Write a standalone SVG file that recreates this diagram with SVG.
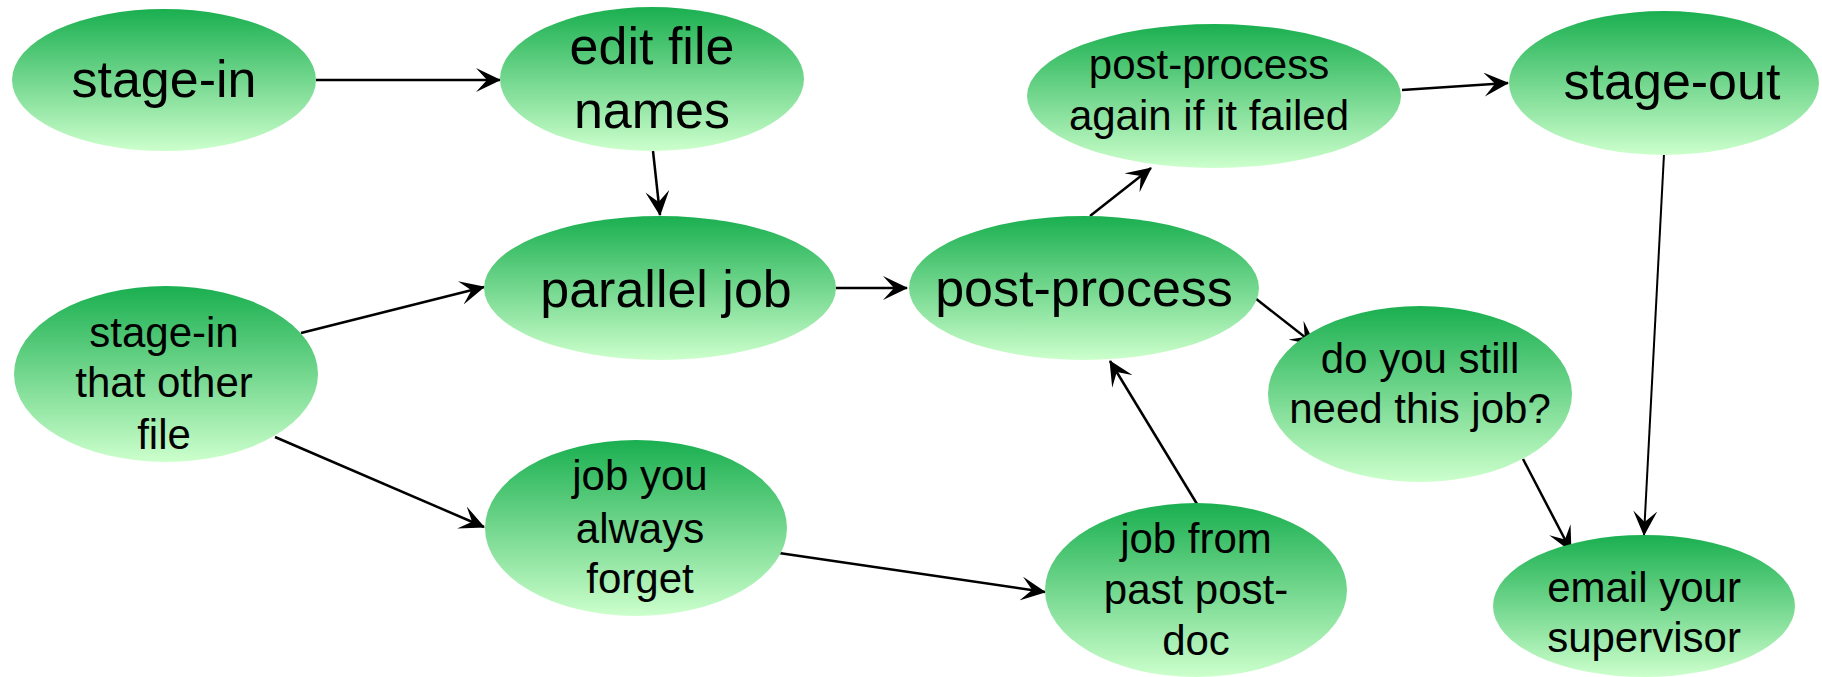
<svg xmlns="http://www.w3.org/2000/svg" width="1822" height="677" viewBox="0 0 1822 677">
<defs>
<linearGradient id="g" x1="0" y1="0" x2="0" y2="1">
<stop offset="0" stop-color="#1aaf50"/>
<stop offset="1" stop-color="#ccffcc"/>
</linearGradient>
<marker id="ah" markerUnits="userSpaceOnUse" viewBox="0 0 25 24" refX="24" refY="12" markerWidth="25" markerHeight="24" orient="auto">
<path d="M0,0 L25,12 L0,24 L11,12 Z" fill="#000"/>
</marker>
</defs>
<style>
ellipse{fill:url(#g);}
text{font-family:"Liberation Sans",Arial,sans-serif;fill:#000;text-anchor:middle;}
.b{font-size:52px;}
.m{font-size:42px;}
#edges line{stroke:#000;stroke-width:2.5;marker-end:url(#ah);}
</style>
<g id="edges">
<line x1="316" y1="80" x2="500" y2="80"/>
<line x1="653" y1="151" x2="660" y2="215"/>
<line x1="301" y1="333" x2="484" y2="287"/>
<line x1="275" y1="437" x2="484" y2="527"/>
<line x1="836" y1="288" x2="907" y2="288"/>
<line x1="779" y1="553" x2="1045" y2="592"/>
<line x1="1197" y1="504" x2="1110" y2="361"/>
<line x1="1090" y1="216" x2="1151" y2="168"/>
<line x1="1255" y1="298" x2="1315" y2="345"/>
<line x1="1402" y1="90" x2="1508" y2="83"/>
<line x1="1664" y1="154" x2="1644" y2="535" style="stroke-width:2"/>
<line x1="1523" y1="459" x2="1571" y2="551"/>
</g>
<g id="stage-in"><ellipse cx="164" cy="80" rx="152" ry="71"/><text class="b" x="164" y="97">stage-in</text></g>
<g id="edit-file-names"><ellipse cx="652" cy="79" rx="152" ry="72"/><text class="b" x="652" y="64">edit file</text><text class="b" x="652" y="128">names</text></g>
<g id="parallel-job"><ellipse cx="660" cy="288" rx="176" ry="72"/><text class="b" x="666" y="307">parallel job</text></g>
<g id="stage-in-other"><ellipse cx="166" cy="374" rx="152" ry="88"/><text class="m" x="164" y="347">stage-in</text><text class="m" x="164" y="397">that other</text><text class="m" x="164" y="449">file</text></g>
<g id="job-forget"><ellipse cx="636" cy="528" rx="151" ry="88"/><text class="m" x="640" y="490">job you</text><text class="m" x="640" y="543">always</text><text class="m" x="640" y="593">forget</text></g>
<g id="post-process"><ellipse cx="1084" cy="288" rx="175" ry="72"/><text class="b" x="1084" y="306">post-process</text></g>
<g id="post-process-again"><ellipse cx="1214" cy="96" rx="187" ry="72"/><text class="m" x="1209" y="79">post-process</text><text class="m" x="1209" y="130">again if it failed</text></g>
<g id="stage-out"><ellipse cx="1664" cy="83" rx="155" ry="72"/><text class="b" x="1672" y="99">stage-out</text></g>
<g id="still-need"><ellipse cx="1420" cy="394" rx="152" ry="88"/><text class="m" x="1420" y="373">do you still</text><text class="m" x="1420" y="423">need this job?</text></g>
<g id="past-postdoc"><ellipse cx="1196" cy="590" rx="151" ry="87"/><text class="m" x="1196" y="553">job from</text><text class="m" x="1196" y="604">past post-</text><text class="m" x="1196" y="655">doc</text></g>
<g id="email"><ellipse cx="1644" cy="606" rx="151" ry="71"/><text class="m" x="1644" y="602">email your</text><text class="m" x="1644" y="652">supervisor</text></g>
</svg>
